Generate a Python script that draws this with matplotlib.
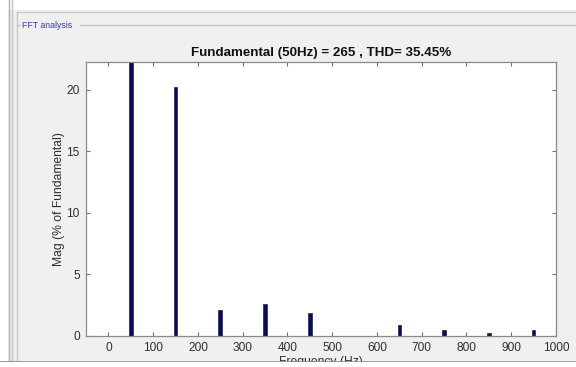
import matplotlib
matplotlib.use("Agg")
import matplotlib.pyplot as plt
from matplotlib.lines import Line2D
from matplotlib.patches import Rectangle

# harmonic spectrum
freqs = [50, 150, 250, 350, 450, 650, 750, 850, 950]
mags = [100, 20.25, 2.09, 2.63, 1.85, 0.87, 0.46, 0.22, 0.46]
xticks = list(range(0, 1001, 100))
yticks = [0, 5, 10, 15, 20]
title = "Fundamental (50Hz) = 265 , THD= 35.45%"

W, H = 576, 367
BG = "#f0f0f0"
plt.rcParams["font.family"] = ["Liberation Sans", "DejaVu Sans"]

fig = plt.figure(figsize=(W / 100, H / 100), dpi=100, facecolor=BG)


def fx(x):
    return x / W


def fy(y):
    return 1 - y / H


def hline(y, x0, x1, color="#c8c8c8", lw=1.0):
    fig.add_artist(Line2D([fx(x0), fx(x1)], [fy(y), fy(y)], color=color, lw=lw,
                          transform=fig.transFigure))


def vline(x, y0, y1, color="#c8c8c8", lw=1.0):
    fig.add_artist(Line2D([fx(x), fx(x)], [fy(y0), fy(y1)], color=color, lw=lw,
                          transform=fig.transFigure))


# window chrome
fig.add_artist(Rectangle((0, fy(10)), 1, 10 / H, transform=fig.transFigure,
                         facecolor="white", edgecolor="none"))
fig.add_artist(Rectangle((0, 0), fx(8), 1, transform=fig.transFigure,
                         facecolor="white", edgecolor="none"))
vline(9, 0, H, "#b0b0b0")
vline(12, 0, H, "#c0c0c0")
vline(17, 12, H)
hline(12, 17, W)
hline(25, 17, 20)
hline(25, 80, W)
fig.text(fx(22), fy(25), "FFT analysis", color="#3535c8", fontsize=6.3,
         va="center", ha="left")

ax = fig.add_axes([fx(86), fy(336), fx(556) - fx(86), fy(62) - fy(336)])
ax.set_facecolor("white")
ax.bar(freqs, mags, width=8, color="#0a0a60", edgecolor="#050530", linewidth=0.4)
ax.set_xlim(-50, 1000)
ax.set_ylim(0, 22.27)
ax.set_xticks(xticks)
ax.set_yticks(yticks)
ax.tick_params(direction="in", length=3, width=0.8, color="#707070",
               labelcolor="#303030", labelsize=8.6, top=True, right=True, pad=4.5)
for s in ax.spines.values():
    s.set_color("#8a8a8a")
    s.set_linewidth(0.9)
ax.set_title(title, fontsize=9.6, fontweight="bold", color="#101010", pad=4)
ax.set_ylabel("Mag (% of Fundamental)", fontsize=8.7, color="#303030", labelpad=1)
ax.set_xlabel("Frequency (Hz)", fontsize=8.7, color="#303030", labelpad=1)

# bottom of the window cuts off the x label
fig.add_artist(Rectangle((0, 0), 1, 5 / H, transform=fig.transFigure,
                         facecolor="white", edgecolor="none", zorder=10))
hline(362, 0, W, "#909090", 1.2)
hline(363, 8, 20, "#202020", 1.5)

fig.savefig("out.png", dpi=100, facecolor=BG)
